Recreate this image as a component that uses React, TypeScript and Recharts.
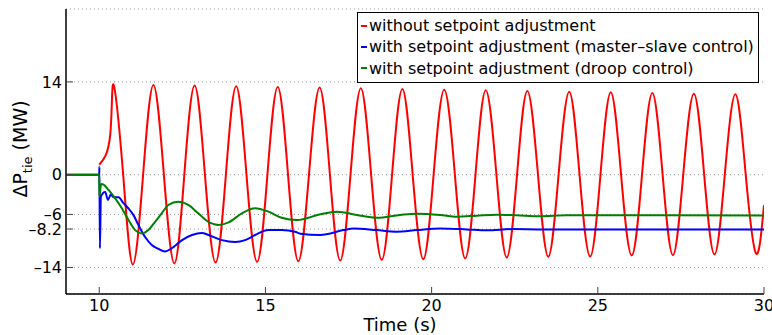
import { CartesianGrid, Legend, Line, LineChart, XAxis, YAxis } from "recharts";

const FONT = "'DejaVu Sans', sans-serif";

const X_TICKS = [10, 15, 20, 25, 30];
const Y_TICKS = [-14, -8.2, -6, 0, 14];

const SERIES_NAMES = [
  "without setpoint adjustment",
  "with setpoint adjustment (master\u2013slave control)",
  "with setpoint adjustment (droop control)",
];
const SERIES_COLORS = ["#ff0000", "#0000ff", "#008000"];

// red: peaks / zero crossings / troughs
const RED_T = [
  10, 10.33, 10.43, 10.72, 11.01, 11.32, 11.63, 11.945, 12.26, 12.56, 12.87, 13.18, 13.5, 13.81, 14.12,
  14.43, 14.75, 15.06, 15.37, 15.68, 15.99, 16.31, 16.63, 16.94, 17.25, 17.56, 17.87, 18.18, 18.5, 18.81,
  19.12, 19.43, 19.75, 20.06, 20.38, 20.7, 21.01, 21.32, 21.63, 21.95, 22.26, 22.57, 22.88, 23.2, 23.51,
  23.82, 24.14, 24.45, 24.77, 25.08, 25.39, 25.7, 26.02, 26.33, 26.64, 26.95, 27.26, 27.57, 27.89, 28.2,
  28.51, 28.82, 29.14, 29.45, 29.76, 30,
];
const RED_V = [
  1.5, 6.0, 13.6, 0, -13.55, 0, 13.55, 0, -13.4, 0, 13.44, 0, -13.25, 0, 13.33,
  0, -13.15, 0, 13.24, 0, -13.05, 0, 13.14, 0, -12.95, 0, 13.03, 0, -12.85, 0,
  12.94, 0, -12.75, 0, 12.83, 0, -12.64, 0, 12.73, 0, -12.49, 0, 12.64, 0, -12.39,
  0, 12.53, 0, -12.34, 0, 12.43, 0, -12.19, 0, 12.33, 0, -12.14, 0, 12.23, 0,
  -12.03, 0, 12.12, 0, -11.89, -4.6,
];

const BLUE_T = [
  9, 10, 10.005, 10.02, 10.05, 10.18, 10.26, 10.35, 10.43, 10.58, 10.73, 10.88, 11.03, 11.18, 11.38,
  11.58, 11.78, 11.98, 12.18, 12.48, 12.79, 13.09, 13.29, 13.69, 14.09, 14.39, 14.69, 15.09, 15.49, 15.89,
  16.05, 16.65, 17.35, 17.65, 18.35, 18.95, 19.55, 20.26, 21.06, 21.66, 22.46, 23.26, 24.06, 30,
];
const BLUE_V = [
  0, 0, 1.2, -11.1, -3.3, -2.6, -3.8, -3.0, -3.4, -3.4, -4.3, -5.1, -6.1, -7.6, -9.4,
  -10.6, -11.2, -11.6, -11.1, -9.9, -9.1, -8.8, -9.1, -9.87, -10.15, -9.87, -9.1, -8.36, -8.36, -8.6,
  -8.9, -9.1, -8.36, -8.1, -8.36, -8.6, -8.36, -8.1, -8.25, -8.4, -8.2, -8.25, -8.25, -8.25,
];

const GREEN_T = [
  9, 10, 10.003, 10.06, 10.13, 10.28, 10.48, 10.68, 10.88, 11.08, 11.28, 11.48, 11.68, 11.88, 12.08,
  12.38, 12.68, 12.98, 13.28, 13.59, 13.89, 14.29, 14.69, 15.09, 15.49, 15.95, 16.65, 17.15, 17.75, 18.35,
  19.05, 19.55, 20.26, 20.76, 21.36, 21.96, 22.56, 23.26, 24.06, 30,
];
const GREEN_V = [
  0, 0, -3.3, -1.4, -1.5, -2.3, -3.56, -5.07, -6.84, -8.36, -8.86, -8.36, -7.1, -5.83, -4.57,
  -4.07, -4.57, -5.83, -7.1, -7.6, -7.2, -5.83, -5.07, -5.58, -6.5, -6.84, -5.98, -5.58, -6.08, -6.5,
  -6.08, -5.88, -6.08, -6.34, -6.18, -6.03, -6.13, -6.28, -6.13, -6.15,
];

const toPoints = (ts: number[], vs: number[]) => ts.map((t, i) => ({ t, v: vs[i] }));

const red = toPoints(RED_T, RED_V);
const blue = toPoints(BLUE_T, BLUE_V);
const green = toPoints(GREEN_T, GREEN_V);

const fmtY = (v: number) => String(v).replace("-", "\u2013");

const tickStyle = { fill: "#000", fontSize: 16, fontFamily: FONT };
const axisLine = { stroke: "#000", strokeWidth: 1.5 };
const tickLine = { stroke: "#444", strokeWidth: 1 };
// mirror axes (top / right) only carry the inward tick marks
const noLabel = () => <g />;

function LegendBox() {
  return (
    <div
      style={{
        border: "1px solid #000",
        background: "#fff",
        padding: "2px 0 3px 0",
        fontFamily: FONT,
        fontSize: 16,
        color: "#000",
        boxSizing: "border-box",
        width: 402,
      }}
    >
      {SERIES_NAMES.map((name, i) => (
        <div key={name} style={{ display: "flex", alignItems: "center", height: 21.3, whiteSpace: "nowrap" }}>
          <span style={{ display: "inline-block", width: 6, height: 2, background: SERIES_COLORS[i], marginLeft: 3, marginRight: 2 }} />
          <span>{name}</span>
        </div>
      ))}
    </div>
  );
}

function YLabel() {
  return (
    <text
      x={27}
      y={149}
      transform="rotate(-90, 27, 149)"
      textAnchor="middle"
      fontFamily={FONT}
      fontSize={19}
      fill="#000"
    >
      {"\u0394P"}
      <tspan dy={5} fontSize={13}>tie</tspan>
      <tspan dy={-5}>{" (MW)"}</tspan>
    </text>
  );
}

export default function App() {
  return (
    <div style={{ width: 772, height: 335, background: "#fff" }}>
      <style>{"body{margin:0;background:#fff}"}</style>
      <LineChart width={772} height={335} margin={{ top: 9, right: 8, bottom: 0, left: 6 }}>
        <CartesianGrid horizontal vertical={false} stroke="#999" strokeDasharray="1 3" />
        <XAxis
          type="number"
          dataKey="t"
          domain={[9, 30]}
          allowDataOverflow
          ticks={X_TICKS}
          interval={0}
          height={41}
          tickSize={-7}
          tickMargin={13}
          tick={tickStyle}
          axisLine={axisLine}
          tickLine={tickLine}
          label={{
            value: "Time (s)",
            position: "insideBottom",
            offset: 4,
            dx: -15,
            fill: "#000",
            fontSize: 18,
            fontFamily: FONT,
          }}
        />
        <XAxis
          xAxisId="top"
          orientation="top"
          type="number"
          dataKey="t"
          domain={[9, 30]}
          allowDataOverflow
          ticks={X_TICKS}
          interval={0}
          height={0}
          tickSize={-7}
          tick={noLabel}
          axisLine={axisLine}
          tickLine={tickLine}
        />
        <YAxis
          type="number"
          domain={[-18, 25]}
          allowDataOverflow
          ticks={Y_TICKS}
          interval={0}
          width={60}
          tickSize={-7}
          tickMargin={11}
          tick={tickStyle}
          tickFormatter={fmtY}
          axisLine={axisLine}
          tickLine={tickLine}
          label={{ content: () => <YLabel /> }}
        />
        <YAxis
          yAxisId="right"
          orientation="right"
          type="number"
          domain={[-18, 25]}
          allowDataOverflow
          ticks={Y_TICKS}
          interval={0}
          width={0}
          tickSize={-7}
          tick={noLabel}
          axisLine={axisLine}
          tickLine={tickLine}
        />
        <Line data={red} dataKey="v" type="natural" stroke={SERIES_COLORS[0]} strokeWidth={2} dot={false} isAnimationActive={false} />
        <Line data={blue} dataKey="v" type="monotone" stroke={SERIES_COLORS[1]} strokeWidth={2} dot={false} isAnimationActive={false} />
        <Line data={green} dataKey="v" type="monotone" stroke={SERIES_COLORS[2]} strokeWidth={2} dot={false} isAnimationActive={false} />
        <Legend
          layout="vertical"
          align="center"
          verticalAlign="middle"
          content={() => <LegendBox />}
          wrapperStyle={{ position: "absolute", left: 357, top: 12, width: 402, height: "auto" }}
        />
      </LineChart>
    </div>
  );
}
